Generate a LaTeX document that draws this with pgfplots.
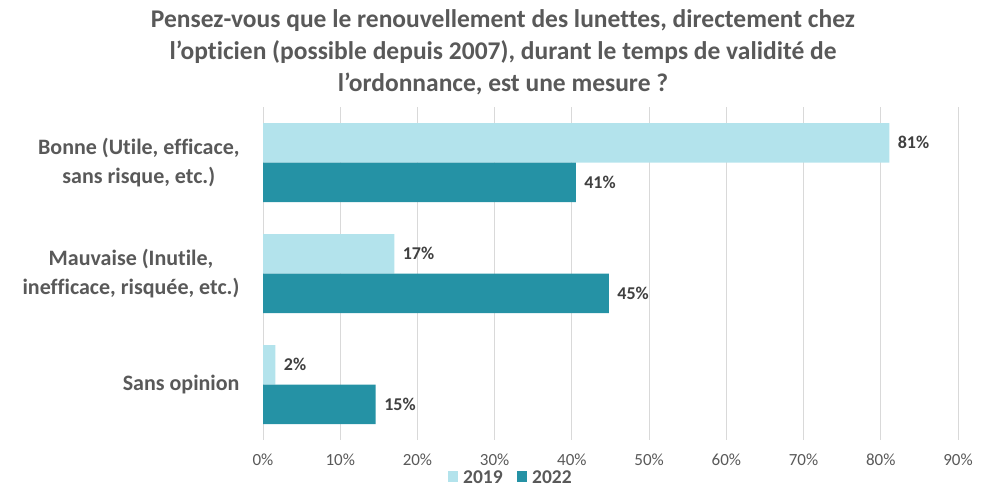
\documentclass[border=0pt]{standalone}
\usepackage{pgfplots}
\pgfplotsset{compat=1.18}
\usepackage{fontspec}
\setmainfont{Carlito}[Ligatures=NoCommon]
\definecolor{lightc}{HTML}{B3E3EC}
\definecolor{tealc}{HTML}{2592A5}
\definecolor{txt}{HTML}{595959}
\definecolor{vtxt}{HTML}{404040}
\definecolor{gridc}{HTML}{D9D9D9}
\begin{document}
\begin{tikzpicture}[x=1pt,y=1pt]
\useasboundingbox (0,0) rectangle (1006,493);
\begin{axis}[
  at={(263pt,53pt)}, anchor=south west,
  scale only axis, width=695pt, height=333pt,
  xbar, bar width=39.5pt,
  xmin=0, xmax=90, ymin=-0.5, ymax=2.5,
  y dir=reverse,
  axis line style={draw=none},
  xtick={0,10,...,90},
  ytick=\empty,
  xmajorgrids, grid style={gridc, line width=1pt},
  major tick length=0pt,
  /pgf/number format/assume math mode=true,
  xticklabel={\pgfmathprintnumber{\tick}\%},
  xticklabel style={font=\fontsize{17}{19}\selectfont, text=txt, yshift=-10pt},
  nodes near coords,
  point meta=explicit symbolic,
  nodes near coords style={font=\bfseries\fontsize{18}{20}\selectfont, text=vtxt, anchor=west, xshift=5pt},
  clip=false,
]
\addplot[fill=lightc, draw=none, bar shift=19.75pt] coordinates {(81.1,0) [81\%] (17.0,1) [17\%] (1.6,2) [2\%]};
\addplot[fill=tealc, draw=none, bar shift=-19.75pt] coordinates {(40.5,0) [41\%] (44.8,1) [45\%] (14.6,2) [15\%]};
\end{axis}
\node[font=\bfseries\fontsize{25.5}{32}\selectfont, text=txt, align=center] at (503,441) {Pensez-vous que le renouvellement des lunettes, directement chez\\l’opticien (possible depuis 2007), durant le temps de validité de\\l’ordonnance, est une mesure ?};
\begin{scope}[every node/.style={font=\bfseries\fontsize{22}{29}\selectfont, text=txt, align=center, anchor=east}]
\node at (243,330.5) {Bonne (Utile, efficace,\\sans risque, etc.)};
\node at (243,219.5) {Mauvaise (Inutile,\\inefficace, risquée, etc.)};
\node at (243,108.5) {Sans opinion};
\end{scope}
\fill[lightc] (448,11) rectangle (458,22);
\node[anchor=west, font=\bfseries\fontsize{19.5}{21}\selectfont, text=txt, inner sep=0pt] at (463,16) {2019};
\fill[tealc] (517,11) rectangle (527,22);
\node[anchor=west, font=\bfseries\fontsize{19.5}{21}\selectfont, text=txt, inner sep=0pt] at (532,16) {2022};
\end{tikzpicture}
\end{document}
